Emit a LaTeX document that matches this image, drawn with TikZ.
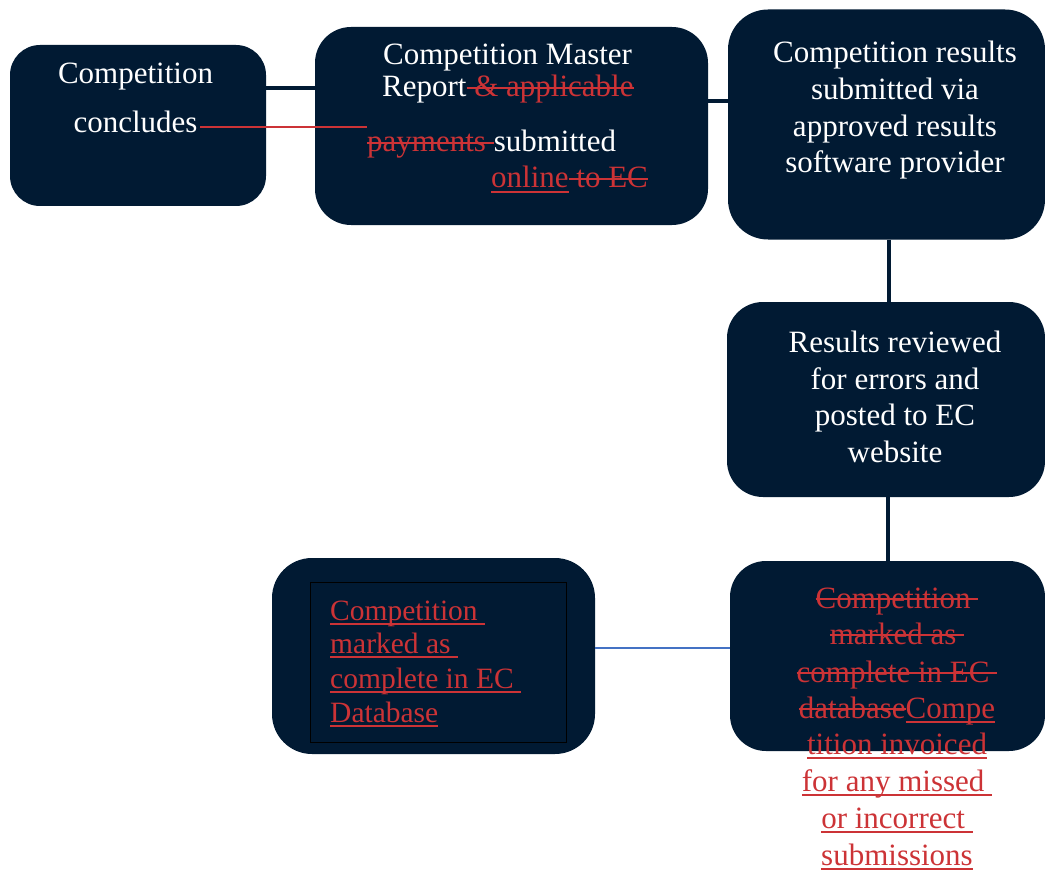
\documentclass[tikz,border=0pt]{standalone}
\usepackage{fontspec}
\setmainfont{Liberation Serif}
\definecolor{navy}{HTML}{011A33}
\definecolor{redx}{HTML}{CC3336}
\definecolor{bluex}{HTML}{4472C4}
\newcommand{\strk}[1]{{\color{redx}\setbox0\hbox{#1}\rlap{\rule[0.26em]{\wd0}{1.8pt}}\box0}}
\newcommand{\undl}[1]{{\color{redx}\setbox0\hbox{#1}\rlap{\rule[-0.17em]{\wd0}{1.8pt}}\box0}}
\tikzset{
  box/.style={fill=navy, inner sep=0pt},
  txt/.style={anchor=base, inner sep=0pt, text=white, font=\fontsize{31}{36}\selectfont},
  txtw/.style={txt, anchor=base west},
  ftxt/.style={anchor=base west, inner sep=0pt, font=\fontsize{29.5}{34}\selectfont},
  conn/.style={draw=navy, line width=4pt},
}
\begin{document}
\begin{tikzpicture}[x=1pt,y=-1pt]
\useasboundingbox (0,0) rectangle (1045,872);
% boxes
\node[box, rounded corners=30pt, minimum width=256pt, minimum height=161pt] (A) at (138,125.5) {};
\node[box, rounded corners=36pt, minimum width=393pt, minimum height=198pt] (B) at (511.5,126) {};
\node[box, rounded corners=40pt, minimum width=317pt, minimum height=230pt] (C) at (886.5,124.5) {};
\node[box, rounded corners=36pt, minimum width=318pt, minimum height=195pt] (D) at (886,399.5) {};
\node[box, rounded corners=36pt, minimum width=315pt, minimum height=190pt] (E) at (887.5,656) {};
\node[box, rounded corners=40pt, minimum width=323pt, minimum height=196pt] (F) at (433.5,656) {};
\node[draw=black, line width=1pt, inner sep=0pt, minimum width=256pt, minimum height=160pt] (Fi) at (438,662) {};
% connectors
\coordinate (ab) at (290,88);
\coordinate (bc) at (718,101);
\coordinate (cd) at (889,270);
\coordinate (de) at (888,530);
\coordinate (fe) at (660,648);
\draw[conn] (A.east |- ab) -- (B.west |- ab);
\draw[conn] (B.east |- bc) -- (C.west |- bc);
\draw[conn] (C.south -| cd) -- (D.north -| cd);
\draw[conn] (D.south -| de) -- (E.north -| de);
\draw[draw=bluex, line width=1.5pt] (F.east |- fe) -- (E.west |- fe);
% box A text
\node[txt] (a1) at (135.5,84) {Competition};
\node[txt] (a2) at (135.5,133) {concludes};
\coordinate (r1) at (200,127);
\coordinate (r2) at (367,127);
\draw[draw=redx, line width=1.8pt] (r1) -- (r2);
% box B text
\node[txtw] (b1) at (383,65) {Competition Master};
\node[txtw] (b2) at (382,97) {Report\strk{ \& applicable}};
\node[txtw] (b3) at (367,152) {\strk{payments }submitted};
\node[txtw] (b4) at (491,188) {\undl{online}\strk{ to EC}};
% box C text
\node[txt] (c1) at (895,63) {Competition results};
\node[txt] (c2) at (895,100) {submitted via};
\node[txt] (c3) at (895,137) {approved results};
\node[txt] (c4) at (895,173) {software provider};
% box D text
\node[txt] (d1) at (895,352) {Results reviewed};
\node[txt] (d2) at (895,389) {for errors and};
\node[txt] (d3) at (895,425) {posted to EC};
\node[txt] (d4) at (895,462) {website};
% box E text
\node[txt] (e1) at (897,608) {\strk{Competition\ }};
\node[txt] (e2) at (897,644) {\strk{marked as\ }};
\node[txt] (e3) at (897,682) {\strk{complete in EC\ }};
\node[txt] (e4) at (897,718) {\strk{database}\undl{Compe}};
\node[txt] (e5) at (897,754) {\undl{tition invoiced}};
\node[txt] (e6) at (897,791) {\undl{for any missed\ }};
\node[txt] (e7) at (897,828) {\undl{or incorrect\ }};
\node[txt] (e8) at (897,865) {\undl{submissions}};
% box F text
\node[ftxt] (f1) at (330,620) {\undl{Competition\ }};
\node[ftxt] (f2) at (330,653) {\undl{marked as\ }};
\node[ftxt] (f3) at (330,688) {\undl{complete in EC\ }};
\node[ftxt] (f4) at (330,722) {\undl{Database}};
\end{tikzpicture}
\end{document}
